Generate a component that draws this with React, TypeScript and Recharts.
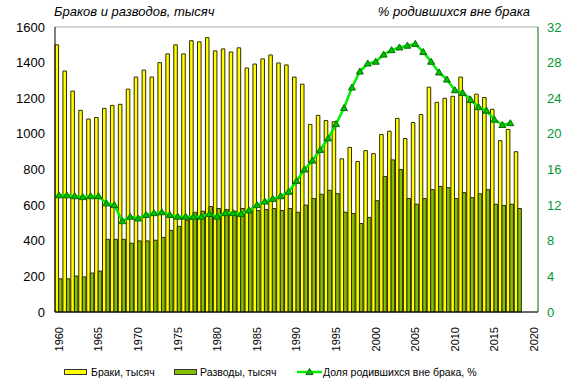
import { ComposedChart, Bar, Line, XAxis, YAxis, CartesianGrid } from "recharts";

const years = [
  1960, 1961, 1962, 1963, 1964, 1965, 1966, 1967, 1968, 1969,
  1970, 1971, 1972, 1973, 1974, 1975, 1976, 1977, 1978, 1979,
  1980, 1981, 1982, 1983, 1984, 1985, 1986, 1987, 1988, 1989,
  1990, 1991, 1992, 1993, 1994, 1995, 1996, 1997, 1998, 1999,
  2000, 2001, 2002, 2003, 2004, 2005, 2006, 2007, 2008, 2009,
  2010, 2011, 2012, 2013, 2014, 2015, 2016, 2017, 2018, 2019, 2020,
];

const marriages = [
  1500, 1353, 1240, 1132, 1083, 1092, 1143, 1160, 1166, 1251,
  1319, 1358, 1319, 1400, 1449, 1500, 1449, 1523, 1517, 1540,
  1466, 1477, 1460, 1483, 1370, 1392, 1421, 1443, 1398, 1387,
  1319, 1279, 1053, 1104, 1075, 1068, 860, 924, 845, 906,
  889, 996, 1015, 1087, 974, 1064, 1109, 1262, 1177, 1200,
  1211, 1319, 1211, 1223, 1204, 1138, 962, 1025, 900, null, null,
];

const divorces = [
  186, 186, 202, 197, 219, 230, 408, 408, 408, 386,
  399, 399, 403, 419, 458, 481, 515, 560, 566, 592,
  581, 575, 566, 581, 566, 570, 575, 581, 570, 581,
  560, 600, 637, 661, 683, 664, 560, 553, 497, 531,
  625, 761, 854, 800, 637, 605, 637, 687, 705, 698,
  637, 670, 642, 664, 687, 605, 598, 605, 581, null, null,
];

const outOfWedlock = [
  13.1, 13.1, 13.0, 12.9, 13.0, 13.0, 12.2, 12.0, 10.2, 10.7,
  10.5, 10.9, 11.1, 11.2, 10.9, 10.7, 10.7, 10.7, 10.7, 11.0,
  10.7, 11.1, 11.1, 11.0, 11.4, 12.0, 12.4, 12.7, 13.0, 13.5,
  14.7, 16.0, 17.0, 18.2, 19.5, 21.1, 22.9, 25.2, 27.0, 27.9,
  28.1, 28.9, 29.4, 29.7, 29.9, 30.1, 29.2, 28.1, 26.9, 26.1,
  24.9, 24.6, 23.8, 23.0, 22.6, 21.6, 21.0, 21.2, null, null, null,
];

const leftTicks = [0, 200, 400, 600, 800, 1000, 1200, 1400, 1600];
const rightTicks = [0, 4, 8, 12, 16, 20, 24, 28, 32];

const data = years.map((y, i) => ({
  year: y,
  marriages: marriages[i],
  divorces: divorces[i],
  share: outOfWedlock[i],
}));

const FONT = "'Liberation Sans', Arial, sans-serif";

function Triangle(props: any) {
  const { cx, cy, value } = props;
  if (value == null || cx == null || cy == null) return <g />;
  const p = `${cx},${cy - 3.5} ${cx - 3.5},${cy + 2.5} ${cx + 3.5},${cy + 2.5}`;
  return <polygon points={p} fill="#00c000" stroke="#007000" strokeWidth={1} />;
}

function YearTick({ x, y, payload }: any) {
  return (
    <text
      transform={`translate(${x},${y + 7}) rotate(-90)`}
      textAnchor="end"
      dy="0.35em"
      fontSize={11}
      fontFamily={FONT}
      fill="#000"
    >
      {payload.value}
    </text>
  );
}

function Legend() {
  const item = { display: "flex", alignItems: "center", position: "absolute" as const, top: 364, height: 15 };
  const text = { fontSize: 10.5, fontFamily: FONT, color: "#000", whiteSpace: "nowrap" as const };
  return (
    <>
      <div style={{ ...item, left: 64 }}>
        <div style={{ width: 21, height: 4, background: "#ffff00", border: "1px solid #333" }} />
        <span style={{ ...text, marginLeft: 4 }}>Браки, тысяч</span>
      </div>
      <div style={{ ...item, left: 174 }}>
        <div style={{ width: 21, height: 4, background: "#80c000", border: "1px solid #333" }} />
        <span style={{ ...text, marginLeft: 3 }}>Разводы, тысяч</span>
      </div>
      <div style={{ ...item, left: 297 }}>
        <svg width={25} height={10}>
          <line x1={0} y1={5} x2={25} y2={5} stroke="#00ee00" strokeWidth={2.5} />
          <polygon points="12.5,1.5 9,7.5 16,7.5" fill="#00c000" stroke="#007000" />
        </svg>
        <span style={{ ...text, marginLeft: 1 }}>Доля родившихся вне брака, %</span>
      </div>
    </>
  );
}

export default function App() {
  return (
    <div style={{ position: "absolute", left: 0, top: 0, width: 577, height: 389, background: "#fff" }}>
      <div
        style={{
          position: "absolute",
          left: 54,
          top: 4,
          fontSize: 13,
          fontStyle: "italic",
          fontFamily: FONT,
        }}
      >
        Браков и разводов, тысяч
      </div>
      <div
        style={{
          position: "absolute",
          right: 47,
          top: 4,
          fontSize: 13,
          fontStyle: "italic",
          fontFamily: FONT,
        }}
      >
        % родившихся вне брака
      </div>
      <ComposedChart
        width={577}
        height={389}
        data={data}
        margin={{ top: 27, right: 0, bottom: 0, left: 0 }}
        barSize={6}
        barGap={-4}
        barCategoryGap={0}
      >
        <CartesianGrid vertical={false} stroke="#a8a8a8" />
        <XAxis
          dataKey="year"
          interval={4}
          height={77}
          tick={<YearTick />}
          tickLine={false}
          axisLine={{ stroke: "#000" }}
        />
        <YAxis
          yAxisId="left"
          domain={[0, 1600]}
          ticks={leftTicks}
          width={55}
          tickLine={false}
          tickSize={8}
          axisLine={{ stroke: "#000" }}
          tick={{ fontSize: 13, fill: "#000", fontFamily: FONT }}
        />
        <YAxis
          yAxisId="right"
          orientation="right"
          domain={[0, 32]}
          ticks={rightTicks}
          width={39}
          tickLine={false}
          tickSize={7}
          axisLine={{ stroke: "#007000" }}
          tick={{ fontSize: 13, fill: "#009933", fontFamily: FONT, textAnchor: "start" }}
        />
        <Bar
          yAxisId="left"
          dataKey="marriages"
          fill="#ffff00"
          stroke="#332b00"
          strokeWidth={1}
          isAnimationActive={false}
        />
        <Bar
          yAxisId="left"
          dataKey="divorces"
          fill="#80c000"
          stroke="#332b00"
          strokeWidth={1}
          isAnimationActive={false}
        />
        <Line
          yAxisId="right"
          dataKey="share"
          stroke="#00ee00"
          strokeWidth={2.5}
          dot={<Triangle />}
          activeDot={false}
          isAnimationActive={false}
        />
      </ComposedChart>
      <Legend />
    </div>
  );
}
